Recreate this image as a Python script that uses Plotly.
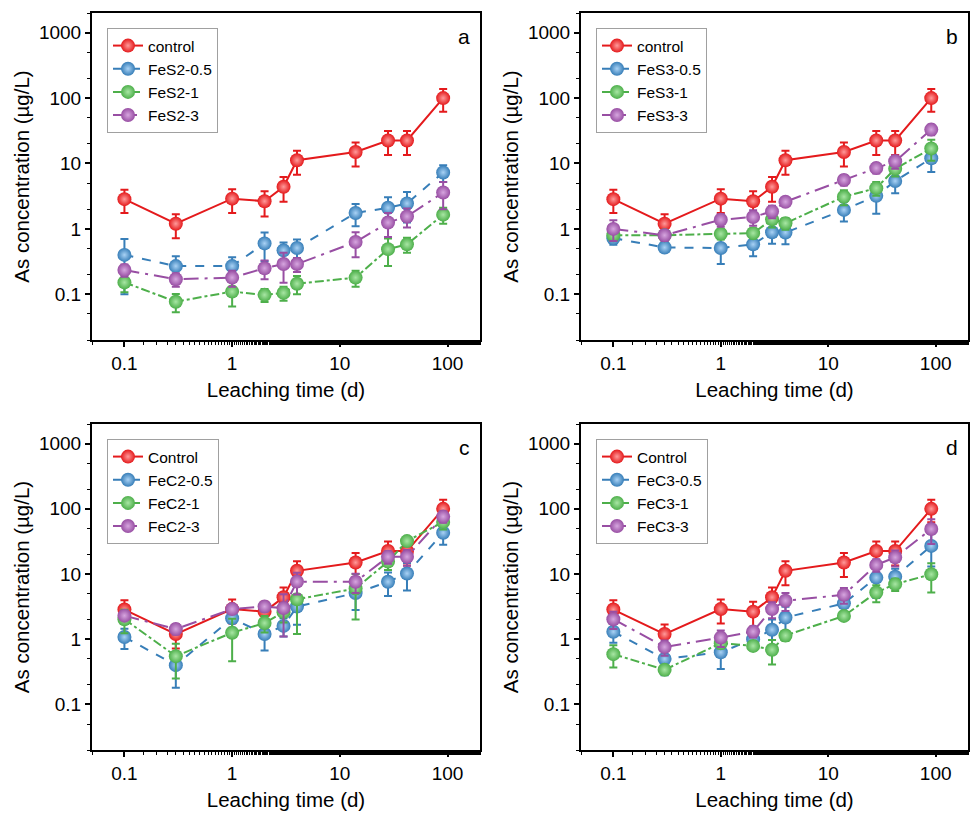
import plotly.graph_objects as go

# ---------------- data ----------------
time_d = [0.1, 0.3, 1, 2, 3, 4, 14, 28, 42, 91]

control = [2.85, 1.2, 2.9, 2.65, 4.4, 11.2, 15, 22.5, 22.5, 100]
control_err = [1.1, 0.48, 1.15, 1.1, 1.8, 4.5, 6, 9, 9, 38]

# panel a
fes2_05 = [0.40, 0.27, 0.27, 0.60, 0.47, 0.51, 1.75, 2.1, 2.45, 7.3]
fes2_05_err = [0.3, 0.11, 0.1, 0.28, 0.15, 0.18, 0.65, 0.95, 1.2, 2.1]
fes2_1 = [0.152, 0.077, 0.11, 0.098, 0.105, 0.145, 0.18, 0.49, 0.58, 1.65]
fes2_1_err = [0.045, 0.024, 0.045, 0.022, 0.025, 0.045, 0.05, 0.22, 0.15, 0.45]
fes2_3 = [0.235, 0.17, 0.18, 0.25, 0.29, 0.29, 0.63, 1.25, 1.55, 3.6]
fes2_3_err = [0.05, 0.04, 0.05, 0.08, 0.14, 0.07, 0.26, 0.5, 0.5, 1.6]

# panel b
fes3_05 = [0.72, 0.52, 0.51, 0.58, 0.89, 0.88, 1.95, 3.2, 5.4, 12]
fes3_05_err = [0.15, 0.05, 0.22, 0.2, 0.3, 0.3, 0.65, 1.5, 1.9, 4.6]
fes3_1 = [0.8, 0.8, 0.84, 0.86, 1.4, 1.22, 3.1, 4.2, 8.3, 17]
fes3_1_err = [0.15, 0.15, 0.15, 0.15, 0.35, 0.25, 0.8, 1.0, 2.0, 6]
fes3_3 = [1.0, 0.8, 1.38, 1.52, 1.85, 2.6, 5.6, 8.5, 10.8, 33]
fes3_3_err = [0.35, 0.15, 0.3, 0.4, 0.4, 0.3, 1.0, 1.5, 2.5, 6]

# panel c
fec2_05 = [1.08, 0.40, 2.1, 1.2, 1.6, 3.17, 5.1, 7.6, 10.2, 43]
fec2_05_err = [0.37, 0.22, 0.6, 0.53, 0.5, 1.5, 2.3, 3.0, 4.6, 15]
fec2_1 = [2.03, 0.55, 1.26, 1.77, 2.6, 4.1, 6.0, 15.5, 32, 63]
fec2_1_err = [0.8, 0.3, 0.8, 0.5, 0.8, 2.9, 4.0, 4, 5, 15]
fec2_3 = [2.3, 1.43, 2.9, 3.17, 3.0, 7.65, 7.6, 18.4, 18.4, 76]
fec2_3_err = [0.3, 0.25, 0.4, 0.5, 1.9, 2.8, 2.5, 4, 5, 15]

# panel d
fec3_05 = [1.3, 0.5, 0.63, 1.0, 1.4, 2.15, 3.55, 8.8, 9.1, 27]
fec3_05_err = [0.42, 0.22, 0.28, 0.25, 0.6, 1.0, 1.1, 4.5, 3, 14]
fec3_1 = [0.59, 0.34, 0.87, 0.79, 0.69, 1.14, 2.28, 5.2, 7.0, 9.9]
fec3_1_err = [0.22, 0.05, 0.15, 0.12, 0.28, 0.2, 0.3, 1.5, 1.5, 4.7]
fec3_3 = [2.03, 0.76, 1.06, 1.31, 2.9, 3.9, 4.8, 13.8, 18, 49]
fec3_3_err = [0.6, 0.2, 0.3, 0.25, 0.8, 1.2, 1.3, 3, 5, 20]

x_tickvals = [0.1, 1, 10, 100]
x_ticktext = ["0.1", "1", "10", "100"]
y_tickvals = [0.1, 1, 10, 100, 1000]
y_ticktext = ["0.1", "1", "10", "100", "1000"]

panels = [
    ("a", [("control", control, control_err),
           ("FeS2-0.5", fes2_05, fes2_05_err),
           ("FeS2-1", fes2_1, fes2_1_err),
           ("FeS2-3", fes2_3, fes2_3_err)]),
    ("b", [("control", control, control_err),
           ("FeS3-0.5", fes3_05, fes3_05_err),
           ("FeS3-1", fes3_1, fes3_1_err),
           ("FeS3-3", fes3_3, fes3_3_err)]),
    ("c", [("Control", control, control_err),
           ("FeC2-0.5", fec2_05, fec2_05_err),
           ("FeC2-1", fec2_1, fec2_1_err),
           ("FeC2-3", fec2_3, fec2_3_err)]),
    ("d", [("Control", control, control_err),
           ("FeC3-0.5", fec3_05, fec3_05_err),
           ("FeC3-1", fec3_1, fec3_1_err),
           ("FeC3-3", fec3_3, fec3_3_err)]),
]

# ---------------- style ----------------
W, H = 976, 816
FONT = "Liberation Sans, Arial, sans-serif"
colors = ["#E41A1C", "#377EB8", "#4DAF4A", "#984EA3"]
lights = ["#FF9A9A", "#A9D2F5", "#A8E6A4", "#D6A6DF"]
dashes = ["solid", "dash", "dashdot", "longdashdot"]

# pixel boxes of each panel: (left, right, top, bottom)
boxes = [(92, 480, 13, 340), (581, 968, 13, 340),
         (92, 480, 424, 750), (581, 968, 424, 750)]

def px_x(p):
    return p / W

def px_y(p):
    return 1 - p / H

fig = go.Figure()
layout = dict(
    width=W, height=H,
    margin=dict(l=0, r=0, t=0, b=0),
    paper_bgcolor="white", plot_bgcolor="white",
    font=dict(family=FONT, size=16, color="black"),
    annotations=[],
)

for i, (letter, series) in enumerate(panels):
    n = "" if i == 0 else str(i + 1)
    xa, ya = "x" + n, "y" + n
    legend_name = "legend" + n
    for j, (name, vals, errs) in enumerate(series):
        fig.add_trace(go.Scatter(
            x=time_d, y=vals, name=name, xaxis=xa, yaxis=ya,
            mode="lines+markers",
            line=dict(color=colors[j], width=2, dash=dashes[j]),
            marker=dict(size=14, color=colors[j],
                        gradient=dict(type="radial", color=lights[j]),
                        line=dict(width=0)),
            error_y=dict(type="data", array=errs, visible=True,
                         color=colors[j], thickness=2, width=4),
            legend=legend_name,
        ))
    l, r, t, b = boxes[i]
    axis_common = dict(
        type="log", showline=True, linecolor="black", linewidth=2,
        mirror=True, showgrid=False, zeroline=False,
        ticks="outside", ticklen=5, tickwidth=1.5, tickcolor="black",
        tickfont=dict(family=FONT, size=19, color="black"),
        minor=dict(ticks="outside", ticklen=3, tickwidth=1, tickcolor="black",
                   showgrid=False),
    )
    layout["xaxis" + n] = dict(
        axis_common, domain=[px_x(l), px_x(r)], anchor=ya,
        range=[-1.30103, 2.30103], tickvals=x_tickvals, ticktext=x_ticktext,
        title=dict(text="Leaching time (d)", standoff=10,
                   font=dict(family=FONT, size=20.5, color="black")),
    )
    layout["yaxis" + n] = dict(
        axis_common, domain=[px_y(b), px_y(t)], anchor=xa,
        range=[-1.69897, 3.30103], tickvals=y_tickvals, ticktext=y_ticktext,
        title=dict(text="As concentration (µg/L)", standoff=4,
                   font=dict(family=FONT, size=20.5, color="black")),
    )
    layout[legend_name] = dict(
        x=px_x(l + 15), y=px_y(t + 15), xanchor="left", yanchor="top",
        bgcolor="white", bordercolor="#A0A0A0", borderwidth=1,
        font=dict(family=FONT, size=15.5, color="black"),
        tracegroupgap=0, itemwidth=30,
    )
    layout["annotations"].append(dict(
        text=letter, xref="paper", yref="paper",
        x=px_x(r - 8), y=px_y(t + 10), xanchor="right", yanchor="top",
        showarrow=False, font=dict(family=FONT, size=21, color="black"),
    ))

fig.update_layout(**layout)
fig.write_html("out.html")
